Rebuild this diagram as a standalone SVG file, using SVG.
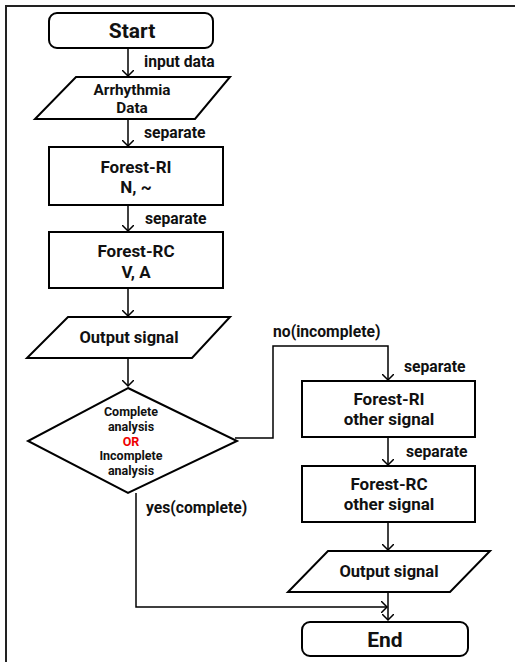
<svg xmlns="http://www.w3.org/2000/svg" width="515" height="662" viewBox="0 0 515 662">
<defs>
<marker id="arr" markerWidth="12" markerHeight="12" refX="6" refY="6" orient="auto" markerUnits="userSpaceOnUse">
<path d="M0,0 L6,6 L0,12" fill="none" stroke="#000" stroke-width="1.5"/>
</marker>
<style>
.shape{fill:#fff;stroke:#000;stroke-width:2}
.edge{fill:none;stroke:#000;stroke-width:1.5}
text{font-family:Roboto,"Open Sans","Liberation Sans",sans-serif;font-weight:bold;fill:#111}
.t{font-size:16px;text-anchor:middle}
.lbl{font-size:15.7px}
.d{font-size:12.5px;text-anchor:middle}
</style>
</defs>
<rect width="515" height="662" fill="#fff"/>
<path d="M6,662 V6 H515" fill="none" stroke="#222" stroke-width="2"/>

<g id="start">
<rect class="shape" x="49" y="13" width="164" height="35" rx="8"/>
<text class="t" x="132" y="38" style="font-size:21px">Start</text>
</g>
<g id="arrhythmia">
<polygon class="shape" points="76,77 230,77 195,119 35,119"/>
<text class="t" x="132" y="94.5" style="font-size:15.3px">Arrhythmia</text>
<text class="t" x="132" y="112.5" style="font-size:15.3px">Data</text>
</g>
<g id="forest-ri">
<rect class="shape" x="49" y="147" width="174" height="58"/>
<text class="t" x="136" y="173" style="font-size:17px">Forest-RI</text>
<text class="t" x="136" y="193" style="font-size:17px">N, ~</text>
</g>
<g id="forest-rc">
<rect class="shape" x="49" y="232" width="174" height="56"/>
<text class="t" x="136" y="257" style="font-size:17px">Forest-RC</text>
<text class="t" x="136" y="277.5" style="font-size:17px">V, A</text>
</g>
<g id="output1">
<polygon class="shape" points="68,317 230,317 192,358 27,358"/>
<text class="t" x="129" y="343" style="font-size:16.5px">Output signal</text>
</g>
<g id="decision">
<polygon class="shape" points="128,388 237,441 128,493 28,441"/>
<text class="d" x="131" y="416">Complete</text>
<text class="d" x="131" y="430.75">analysis</text>
<text class="d" x="131" y="445.5" style="fill:#e00">OR</text>
<text class="d" x="131" y="460.25">Incomplete</text>
<text class="d" x="131" y="475">analysis</text>
</g>
<g id="forest-ri-other">
<rect class="shape" x="302" y="381" width="173" height="56"/>
<text class="t" x="389" y="405" style="font-size:17px">Forest-RI</text>
<text class="t" x="389" y="425" style="font-size:17px">other signal</text>
</g>
<g id="forest-rc-other">
<rect class="shape" x="302" y="466" width="173" height="56"/>
<text class="t" x="389" y="490" style="font-size:17px">Forest-RC</text>
<text class="t" x="389" y="510" style="font-size:17px">other signal</text>
</g>
<g id="output2">
<polygon class="shape" points="328,551 490,551 450,592 288,592"/>
<text class="t" x="389" y="577" style="font-size:16.5px">Output signal</text>
</g>
<g id="end">
<rect class="shape" x="302" y="622" width="166" height="34" rx="8"/>
<text class="t" x="385" y="647" style="font-size:21px">End</text>
</g>

<g id="connectors">
<path class="edge" d="M128,48 V76" marker-end="url(#arr)"/>
<path class="edge" d="M128,119 V146" marker-end="url(#arr)"/>
<path class="edge" d="M128,205 V231" marker-end="url(#arr)"/>
<path class="edge" d="M128,288 V316" marker-end="url(#arr)"/>
<path class="edge" d="M128,358 V386" marker-end="url(#arr)"/>
<path class="edge" d="M235,438 H273 V346 H388 V380" marker-end="url(#arr)"/>
<path class="edge" d="M388,437 V465" marker-end="url(#arr)"/>
<path class="edge" d="M388,522 V550" marker-end="url(#arr)"/>
<path class="edge" d="M388,592 V620" marker-end="url(#arr)"/>
<path class="edge" d="M136,493 V607 H387" marker-end="url(#arr)"/>
<text class="lbl" x="144" y="67">input data</text>
<text class="lbl" x="144" y="138">separate</text>
<text class="lbl" x="145" y="224">separate</text>
<text class="lbl" x="273" y="337">no(incomplete)</text>
<text class="lbl" x="404" y="372">separate</text>
<text class="lbl" x="406" y="457">separate</text>
<text class="lbl" x="146" y="513">yes(complete)</text>
</g>
</svg>
